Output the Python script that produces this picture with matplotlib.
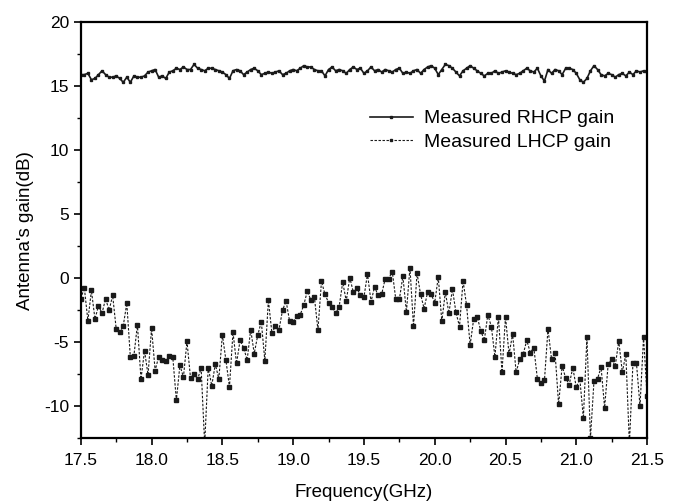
import matplotlib
matplotlib.use("Agg")
import matplotlib.pyplot as plt
from matplotlib.ticker import MultipleLocator
import numpy as np

plt.rcParams['font.family'] = ['Liberation Sans', 'DejaVu Sans']
plt.rcParams['axes.unicode_minus'] = False

# frequency grid: 17.5 .. 21.5 GHz, 161 samples
freq = np.linspace(17.5, 21.5, 161)

rhcp_gain = [
    15.9, 15.9, 16.0, 15.5, 15.6, 15.9, 16.2, 15.9, 15.7, 15.7,
    15.8, 15.6, 15.3, 15.7, 15.3, 15.8, 15.7, 15.7, 15.8, 16.1,
    16.2, 16.3, 15.7, 15.8, 15.6, 16.1, 16.2, 16.4, 16.3, 16.5,
    16.3, 16.3, 16.7, 16.4, 16.3, 16.2, 16.4, 16.4, 16.3, 16.2,
    16.1, 15.9, 15.6, 16.2, 16.3, 16.2, 15.9, 16.1, 16.3, 16.4,
    16.2, 15.9, 16.0, 16.1, 16.0, 16.1, 16.2, 15.9, 16.0, 16.2,
    16.3, 16.2, 16.4, 16.6, 16.5, 16.5, 16.3, 16.2, 16.2, 15.8,
    16.3, 16.5, 16.2, 16.3, 16.2, 16.0, 16.3, 16.5, 16.3, 16.4,
    16.0, 16.2, 16.5, 16.2, 16.3, 16.1, 16.3, 16.2, 16.1, 16.3,
    16.4, 16.0, 16.1, 16.0, 16.2, 16.3, 16.0, 16.3, 16.5, 16.6,
    16.4, 15.9, 16.3, 16.7, 16.6, 16.4, 16.1, 15.8, 16.2, 16.4,
    16.6, 16.4, 16.2, 16.0, 15.8, 16.0, 16.0, 16.2, 16.0, 16.1,
    16.2, 16.1, 16.0, 15.9, 16.0, 16.2, 16.4, 16.2, 16.1, 16.4,
    15.8, 15.4, 16.3, 16.0, 16.3, 16.2, 15.9, 16.4, 16.4, 16.3,
    16.0, 15.5, 15.3, 15.6, 16.2, 16.6, 16.3, 15.9, 15.8, 16.0,
    15.9, 15.7, 15.9, 16.0, 15.8, 16.1, 15.9, 16.2, 16.1, 16.2,
    16.1,
]

lhcp_gain = [
    -1.6, -0.77, -3.33, -0.97, -3.2, -2.18, -2.74, -1.62, -2.51, -1.36,
    -3.97, -4.23, -3.72, -1.97, -6.2, -6.08, -3.64, -7.9, -5.69, -7.56,
    -3.92, -7.23, -6.15, -6.41, -6.49, -6.08, -6.2, -9.56, -6.82, -7.74,
    -4.95, -7.82, -7.51, -7.9, -7.05, -13.0, -7.0, -8.41, -6.74, -7.87,
    -4.44, -6.41, -8.51, -4.23, -6.67, -4.87, -5.44, -6.41, -4.03, -5.9,
    -4.46, -3.41, -6.46, -1.72, -4.31, -3.72, -4.03, -2.51, -1.79, -3.38,
    -3.41, -2.95, -2.87, -2.1, -1.03, -1.72, -1.49, -4.05, -0.26, -1.28,
    -1.92, -2.26, -2.77, -2.23, -0.33, -1.79, 0.03, -1.1, -0.77, -1.36,
    -1.49, 0.33, -1.85, -0.69, -1.36, -1.28, -0.05, -0.05, 0.51, -1.67,
    -1.67, 0.13, -2.64, 0.82, -3.77, 0.38, -1.28, -2.38, -1.08, -1.28,
    -1.92, 0.08, -3.38, -1.1, -2.74, -0.87, -2.69, -3.79, -0.21, -2.13,
    -5.23, -3.21, -3.03, -4.1, -4.87, -2.87, -3.79, -6.15, -3.03, -7.36,
    -3.03, -5.97, -4.36, -7.36, -6.36, -5.95, -4.87, -5.82, -5.44, -7.87,
    -8.21, -8.0, -3.97, -6.33, -5.85, -9.87, -6.87, -7.82, -8.33, -7.0,
    -8.54, -7.9, -10.95, -4.62, -12.5, -8.03, -7.87, -6.97, -10.13, -6.74,
    -6.36, -6.87, -4.92, -7.36, -5.95, -13.0, -6.67, -6.67, -10.0, -4.62,
    -9.2,
]

fig = plt.figure(figsize=(6.79, 5.04), dpi=100)
ax = fig.add_axes([0.119, 0.131, 0.834, 0.825])

ax.plot(freq, rhcp_gain, color='#1a1a1a', lw=1.2, marker='s', ms=1.8,
        label='Measured RHCP gain')
ax.plot(freq, lhcp_gain, color='#1a1a1a', lw=0.8, ls=(0, (2.2, 1.4)),
        marker='s', ms=2.4, label='Measured LHCP gain')

ax.set_xlim(17.5, 21.5)
ax.set_ylim(-12.5, 20)
ax.xaxis.set_minor_locator(MultipleLocator(0.25))
ax.yaxis.set_major_locator(MultipleLocator(5))
ax.yaxis.set_minor_locator(MultipleLocator(2.5))
ax.set_xticks(np.arange(17.5, 21.51, 0.5))
ax.set_xticklabels([f"{v:.1f}" for v in np.arange(17.5, 21.51, 0.5)])

ax.tick_params(which='major', direction='out', length=5, width=1.2,
               labelsize=12.5, top=False, right=False)
ax.tick_params(axis='x', which='major', pad=6)
ax.tick_params(which='minor', direction='out', length=3, width=1.0,
               top=False, right=False)
for s in ax.spines.values():
    s.set_linewidth(1.6)

ax.set_xlabel('Frequency(GHz)', fontsize=13.5, labelpad=11)
ax.set_ylabel("Antenna's gain(dB)", fontsize=13.5, labelpad=7)

ax.legend(loc='upper left', bbox_to_anchor=(0.497, 0.808), frameon=False,
          fontsize=14, handlelength=2.2, handletextpad=0.6,
          labelspacing=0.3, markerscale=0.8, borderaxespad=0)

fig.savefig('out.png', dpi=100)
